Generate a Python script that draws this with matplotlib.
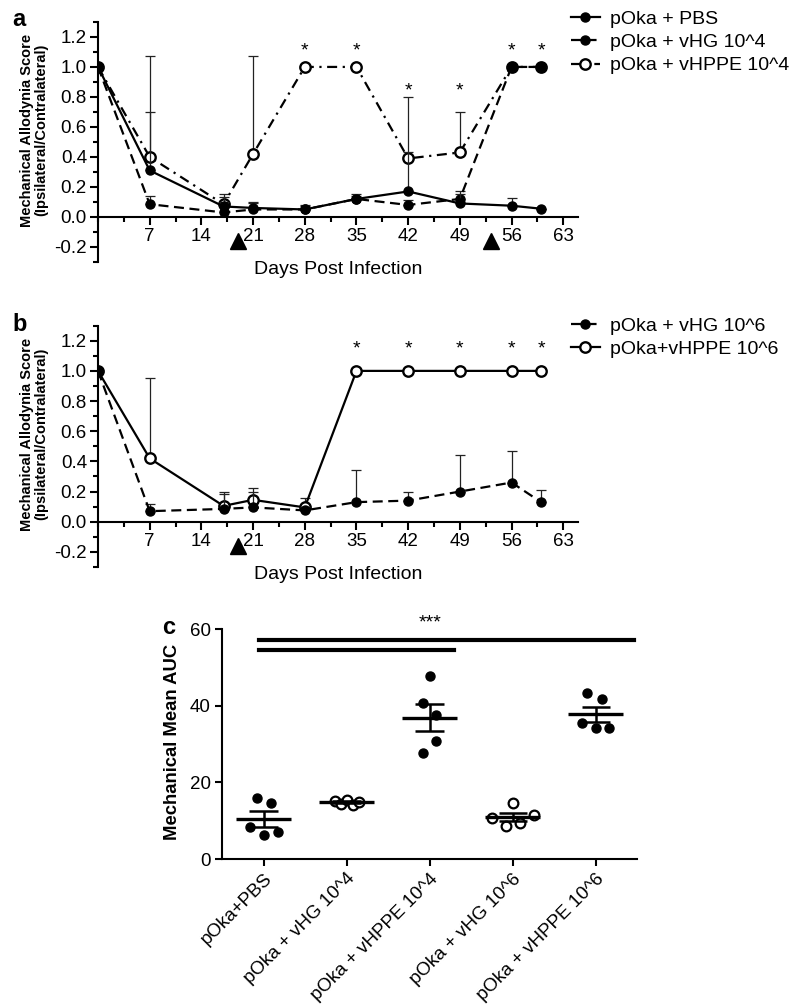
import matplotlib
matplotlib.use('Agg')
import matplotlib.pyplot as plt
import numpy as np
from matplotlib.ticker import MultipleLocator, FormatStrFormatter

plt.rcParams['font.family'] = ['Liberation Sans', 'DejaVu Sans']
plt.rcParams['axes.unicode_minus'] = False

# ---- panel a data ----
days_a = [0, 7, 17, 21, 28, 35, 42, 49, 56, 60]
pbs = [1.0, 0.31, 0.07, 0.06, 0.05, 0.12, 0.17, 0.09, 0.075, 0.055]
pbs_err = [0, 0.39, 0.06, 0.04, 0.03, 0.03, 0.26, 0.06, 0.05, 0]
vhg4 = [1.0, 0.085, 0.03, 0.05, 0.05, 0.12, 0.08, 0.12, 1.0, 1.0]
vhg4_err = [0, 0.055, 0.07, 0.04, 0.02, 0.02, 0.03, 0.05, 0, 0]
vhppe4 = [1.0, 0.40, 0.085, 0.42, 1.0, 1.0, 0.39, 0.43, 1.0, 1.0]
vhppe4_err = [0, 0.67, 0.07, 0.65, 0, 0, 0.41, 0.27, 0, 0]
star_days_a = [28, 35, 42, 49, 56, 60]
star_y_a = [1.05, 1.05, 0.78, 0.78, 1.05, 1.05]
arrow_days_a = [18.9, 53.2]

# ---- panel b data ----
days_b = [0, 7, 17, 21, 28, 35, 42, 49, 56, 60]
vhg6 = [1.0, 0.07, 0.085, 0.095, 0.075, 0.13, 0.14, 0.20, 0.26, 0.13]
vhg6_err = [0, 0.045, 0.10, 0.10, 0.02, 0.21, 0.06, 0.24, 0.21, 0.08]
vhppe6 = [1.0, 0.42, 0.105, 0.145, 0.095, 1.0, 1.0, 1.0, 1.0, 1.0]
vhppe6_err = [0, 0.53, 0.095, 0.08, 0.06, 0, 0, 0, 0, 0]
star_days_b = [35, 42, 49, 56, 60]
star_y_b = [1.09, 1.09, 1.09, 1.09, 1.09]
arrow_days_b = [18.9]

# ---- panel c data ----
groups = ['pOka+PBS', 'pOka + vHG 10^4', 'pOka + vHPPE 10^4',
          'pOka + vHG 10^6', 'pOka + vHPPE 10^6']
auc_pbs = [15.9, 14.6, 8.4, 6.3, 7.0]
auc_vhg4 = [15.2, 14.4, 15.4, 14.1, 14.9]
auc_vhppe4 = [47.8, 40.6, 37.6, 30.8, 27.7]
auc_vhg6 = [14.5, 11.6, 10.7, 9.3, 8.7]
auc_vhppe6 = [43.3, 41.8, 35.5, 34.2, 34.3]
jit_pbs = [-0.08, 0.09, -0.16, 0.0, 0.17]
jit_vhg4 = [-0.14, -0.07, 0.0, 0.08, 0.15]
jit_vhppe4 = [0.0, -0.08, 0.08, 0.08, -0.08]
jit_vhg6 = [0.0, 0.26, -0.25, 0.09, -0.08]
jit_vhppe6 = [-0.10, 0.08, -0.17, 0.0, 0.16]
open_marker = [False, True, False, True, False]

fig = plt.figure(figsize=(8, 10.06), dpi=100)

dash = (0, (4.5, 2.5))
dashdot = (0, (4.5, 2.5, 1, 2.5))


def style_time_axis(ax):
    ax.set_xlim(0, 65)
    ax.set_ylim(-0.3, 1.3)
    for s in ['top', 'right']:
        ax.spines[s].set_visible(False)
    ax.spines['bottom'].set_position(('data', 0))
    ax.spines['bottom'].set_linewidth(1.5)
    ax.spines['left'].set_linewidth(1.5)
    ax.set_xticks(range(7, 64, 7))
    ax.xaxis.set_minor_locator(MultipleLocator(3.5))
    ax.yaxis.set_major_locator(MultipleLocator(0.2))
    ax.yaxis.set_minor_locator(MultipleLocator(0.1))
    ax.yaxis.set_major_formatter(FormatStrFormatter('%.1f'))
    ax.tick_params(axis='both', which='major', labelsize=13.5, width=1.5, length=6, pad=2)
    ax.tick_params(axis='both', which='minor', width=1.5, length=3.5)
    ax.set_ylabel('Mechanical Allodynia Score\n(Ipsilateral/Contralateral)',
                  fontsize=10.5, fontweight='bold', linespacing=1.0)
    ax.yaxis.set_label_coords(-0.104, 0.55)
    ax.text(0.5, -0.03, 'Days Post Infection', transform=ax.transAxes,
            ha='center', va='center', fontsize=14)


def series(ax, x, y, err, ls, filled, z, ms=6.5):
    ax.errorbar(x, y, yerr=[np.zeros(len(err)), err], fmt='none', ecolor='#222222',
                elinewidth=0.9, capsize=3.6, capthick=0.9, zorder=z - 0.5)
    if filled:
        line, = ax.plot(x, y, ls=ls, color='black', lw=1.6, marker='o', ms=ms,
                        mfc='black', mec='black', zorder=z)
    else:
        line, = ax.plot(x, y, ls=ls, color='black', lw=1.6, marker='o', ms=7.5,
                        mfc='white', mec='black', mew=1.7, zorder=z)
    return line


# ---- panel a ----
ax1 = fig.add_axes([0.1225, 0.7396, 0.60, 0.2386])
style_time_axis(ax1)
h3 = series(ax1, days_a, vhppe4, vhppe4_err, dashdot, False, 3)
h2 = series(ax1, days_a, vhg4, vhg4_err, dash, True, 4)
h1 = series(ax1, days_a, pbs, pbs_err, '-', True, 5)
for d, yv in zip(star_days_a, star_y_a):
    ax1.text(d, yv, '*', ha='center', va='bottom', fontsize=14)
ax1.plot(arrow_days_a, [-0.16] * len(arrow_days_a), ls='none', marker='^', ms=11,
         color='black', clip_on=False)
ax1.legend([h1, h2, h3], ['pOka + PBS', 'pOka + vHG 10^4', 'pOka + vHPPE 10^4'],
           loc='upper left', bbox_to_anchor=(0.985, 1.05), frameon=False, fontsize=14,
           borderpad=0, borderaxespad=0, handlelength=1.5, handletextpad=0.5,
           labelspacing=0.3)
fig.text(0.015, 0.992, 'a', fontsize=17, fontweight='bold', va='top')

# ---- panel b ----
ax2 = fig.add_axes([0.1225, 0.4364, 0.60, 0.2399])
style_time_axis(ax2)
g2 = series(ax2, days_b, vhppe6, vhppe6_err, '-', False, 3)
g1 = series(ax2, days_b, vhg6, vhg6_err, dash, True, 4)
for d, yv in zip(star_days_b, star_y_b):
    ax2.text(d, yv, '*', ha='center', va='bottom', fontsize=14)
ax2.plot(arrow_days_b, [-0.16] * len(arrow_days_b), ls='none', marker='^', ms=11,
         color='black', clip_on=False)
ax2.legend([g1, g2], ['pOka + vHG 10^6', 'pOka+vHPPE 10^6'],
           loc='upper left', bbox_to_anchor=(0.985, 1.036), frameon=False, fontsize=14,
           borderpad=0, borderaxespad=0, handlelength=1.5, handletextpad=0.5,
           labelspacing=0.3)
fig.text(0.015, 0.689, 'b', fontsize=17, fontweight='bold', va='top')

# ---- panel c ----
ax3 = fig.add_axes([0.2775, 0.1461, 0.519, 0.2286])
for s in ['top', 'right']:
    ax3.spines[s].set_visible(False)
ax3.spines['bottom'].set_linewidth(1.5)
ax3.spines['left'].set_linewidth(1.5)
ax3.set_xlim(-0.5, 4.5)
ax3.set_ylim(0, 60)
ax3.set_yticks([0, 20, 40, 60])

all_auc = [auc_pbs, auc_vhg4, auc_vhppe4, auc_vhg6, auc_vhppe6]
all_jit = [jit_pbs, jit_vhg4, jit_vhppe4, jit_vhg6, jit_vhppe6]
for i, (vals, jit, op) in enumerate(zip(all_auc, all_jit, open_marker)):
    vals = np.array(vals)
    m = vals.mean()
    sem = vals.std(ddof=1) / np.sqrt(len(vals))
    xs = i + np.array(jit)
    if op:
        ax3.plot(xs, vals, ls='none', marker='o', ms=7, mfc='white', mec='black',
                 mew=1.6, zorder=3)
    else:
        ax3.plot(xs, vals, ls='none', marker='o', ms=6.5, color='black', zorder=3)
    ax3.hlines(m, i - 0.33, i + 0.33, color='black', lw=2.4, zorder=4)
    ax3.vlines(i, m - sem, m + sem, color='black', lw=1.8, zorder=4)
    ax3.hlines([m - sem, m + sem], i - 0.17, i + 0.17, color='black', lw=1.8, zorder=4)

ax3.plot([-0.05, 4.46], [57.2, 57.2], color='black', lw=3, clip_on=False)
ax3.plot([-0.05, 2.29], [54.5, 54.5], color='black', lw=3, clip_on=False)
ax3.text(2.0, 59.3, '***', ha='center', va='bottom', fontsize=14)

ax3.set_xticks(range(len(groups)))
ax3.set_xticklabels(groups, rotation=45, ha='right', rotation_mode='anchor')
ax3.tick_params(axis='both', labelsize=13.5, width=1.5, length=5, pad=3)
ax3.set_ylabel('Mechanical Mean AUC', fontsize=13.3, fontweight='bold')
ax3.yaxis.set_label_coords(-0.099, 0.51)
fig.text(0.203, 0.388, 'c', fontsize=17, fontweight='bold', va='top')

fig.savefig('out.png', dpi=100)
